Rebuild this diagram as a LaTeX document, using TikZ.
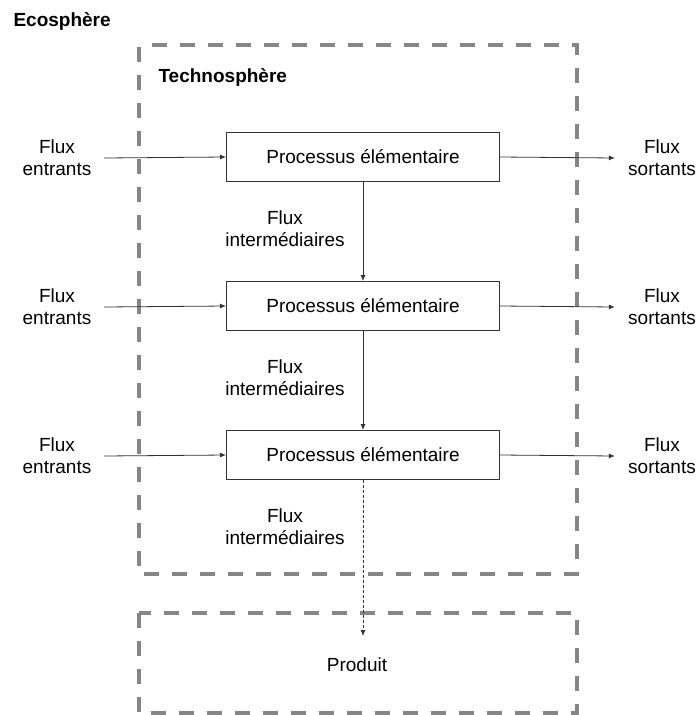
\documentclass[tikz,border=0pt]{standalone}
\usepackage{fontspec}
\setmainfont{Liberation Sans}
\usetikzlibrary{arrows.meta}

\begin{document}
\begin{tikzpicture}[x=1pt,y=-1pt,
    font=\fontsize{19}{22}\selectfont,
    sphere/.style={draw=gray!95,line width=3.2pt,dash pattern=on 15pt off 13pt},
    procbox/.style={draw=black!80,line width=1pt,minimum width=273pt,minimum height=49pt},
    fluxlabel/.style={align=center,minimum width=94pt,inner sep=0pt},
    flow/.style={draw=black!80,line width=0.8pt,-{Latex[length=6pt,width=5pt]}},
    product/.style={flow,dash pattern=on 3pt off 2pt}]
            \useasboundingbox (0,0) rectangle (700,715);
            % spheres
            \draw[sphere] (139,47) -- (139,574) -- (577,574) -- (577,45) -- (139,45);
            \draw[sphere] (139,613) rectangle (577,713);
            \node[anchor=west,font=\fontsize{19}{22}\selectfont\bfseries] (eco) at (10,22) {Ecosphère};
            \node[anchor=west,font=\fontsize{19}{22}\selectfont\bfseries] (techno) at (155,78) {Technosphère};
            % elementary processes
            \node[procbox] (p1) at (363,157) {Processus élémentaire};
            \node[procbox] (p2) at (363,306) {Processus élémentaire};
            \node[procbox] (p3) at (363,455) {Processus élémentaire};
            % inputs and outputs
            \node[fluxlabel] (in1) at (57,158) {Flux\\entrants};
            \node[fluxlabel] (in2) at (57,307) {Flux\\entrants};
            \node[fluxlabel] (in3) at (57,456) {Flux\\entrants};
            \node[fluxlabel] (out1) at (662,158) {Flux\\sortants};
            \node[fluxlabel] (out2) at (662,307) {Flux\\sortants};
            \node[fluxlabel] (out3) at (662,456) {Flux\\sortants};
            \draw[flow] (in1.east) -- (p1.west);
            \draw[flow] (in2.east) -- (p2.west);
            \draw[flow] (in3.east) -- (p3.west);
            \draw[flow] (p1.east) -- (out1.west);
            \draw[flow] (p2.east) -- (out2.west);
            \draw[flow] (p3.east) -- (out3.west);
            % intermediate flows
            \node[align=center] (mid1) at (285,229) {Flux\\intermédiaires};
            \node[align=center] (mid2) at (285,378) {Flux\\intermédiaires};
            \node[align=center] (mid3) at (285,527) {Flux\\intermédiaires};
            \draw[flow] (p1.south) -- (p2.north);
            \draw[flow] (p2.south) -- (p3.north);
            % product
            \node (prod) at (357,665) {Produit};
            \coordinate (prodin) at (363,636);
            \draw[product] (p3.south) -- (prodin);
\end{tikzpicture}
\end{document}
